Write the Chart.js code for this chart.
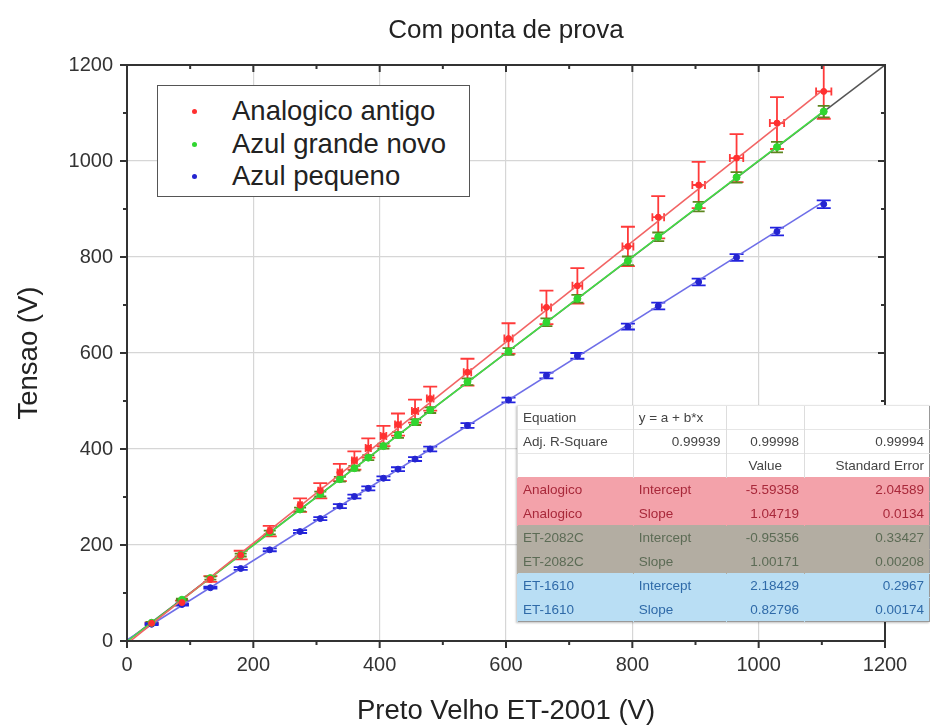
<!DOCTYPE html>
<html lang="pt">
<head>
    <meta charset="UTF-8">
    <title>Com ponta de prova</title>
    <script src="https://cdn.jsdelivr.net/npm/chart.js"></script>
    <style>
        html, body { margin: 0; padding: 0; background: #fff; overflow: hidden; }
        #wrap { position: relative; width: 930px; height: 728px; overflow: hidden; font-family: "Liberation Sans", Arial, sans-serif; }
        #legend { position: absolute; left: 157px; top: 85px; width: 311px; height: 110px; border: 1.5px solid #555; background: #fff; }
        #legend .item { position: absolute; left: 0; height: 30px; line-height: 30px; font-size: 27.5px; color: #222; white-space: nowrap; }
        #legend .dot { position: absolute; left: 34px; top: 13px; width: 5px; height: 5px; border-radius: 50%; }
        #legend .txt { position: absolute; left: 74px; top: 0; }
        #fit { position: absolute; left: 517px; top: 405px; border-collapse: collapse; font-size: 13.5px; color: #444; background: #fff; border: 1px solid #999; box-shadow: -1px 1px 2px rgba(0,0,0,0.25); }
        #fit td { height: 23px; padding: 0 5px; border-left: 1px solid #ddd; border-top: 1px solid #e6e6e6; white-space: nowrap; }
        #fit td.l { text-align: left; }
        #fit td.r { text-align: right; }
        #fit td.c { text-align: center; }
        #fit tr.ana td { background: #f3a2aa; color: #a8283a; border-color: #f3a2aa; }
        #fit tr.et2 td { background: #b3ada2; color: #5c6b55; border-color: #b3ada2; }
        #fit tr.et1 td { background: #b9def4; color: #2f6aa8; border-color: #b9def4; }
    </style>
</head>
<body>
<div id="wrap">
    <canvas id="chart" width="930" height="728"></canvas>
    <div id="legend"></div>
    <table id="fit">
        <colgroup><col style="width:118px"><col style="width:95px"><col style="width:80px"><col style="width:128px"></colgroup>
        <tbody></tbody>
    </table>
</div>
<script>
    // measured readings (V)
    const refVolts = [39, 87, 132, 180, 226, 274, 306, 337, 360, 382, 406, 429, 456, 480, 539, 604, 664, 713, 793, 841, 905, 965, 1029, 1103];

    const analogVolts = [37, 80, 129, 179, 229, 283, 313, 351, 376, 402, 427, 451, 479, 505, 560, 630, 695, 740, 822, 883, 950, 1006, 1079, 1145];
    const analogErr = [2, 4, 6, 9, 11, 14, 16, 18, 19, 20, 21, 23, 24, 25, 28, 32, 35, 37, 41, 44, 48, 50, 54, 57];
    const analogRefErr = [0.4, 1, 1.5, 2, 2.5, 3, 3.4, 3.7, 4, 4.2, 4.5, 4.7, 5, 5.3, 5.9, 6.6, 7.3, 7.8, 8.7, 9.3, 10, 10.6, 11.3, 12.1];

    const bigBlueVolts = [38, 86, 131, 179, 226, 274, 306, 337, 360, 382, 406, 429, 456, 481, 540, 603, 664, 713, 792, 842, 905, 966, 1029, 1103];
    const bigBlueErr = [2, 2, 3, 3, 4, 4, 5, 5, 5, 5, 5, 6, 6, 6, 7, 7, 8, 8, 9, 9, 10, 11, 11, 12];

    const smallBlueVolts = [35, 76, 111, 151, 190, 228, 255, 281, 301, 318, 339, 358, 379, 400, 449, 502, 553, 594, 655, 698, 748, 799, 853, 910];
    const smallBlueErr = [2, 2, 2, 3, 3, 3, 3, 4, 4, 4, 4, 4, 4, 5, 5, 5, 6, 6, 6, 7, 7, 7, 8, 8];

    const seriesNames = ['Analogico antigo', 'Azul grande novo', 'Azul pequeno'];
    const seriesColors = ['#ff3030', '#30d630', '#2424d0'];
    const fitColors = ['#f26464', '#45e045', '#6e6ee8'];
    const barColors = ['#ff3a3a', '#5d861e', '#2222e0'];

    // linear fits y = a + b*x
    const fitNames = ['Analogico', 'ET-2082C', 'ET-1610'];
    const fitIntercept = [-5.59358, -0.95356, 2.18429];
    const fitInterceptErr = ['2.04589', '0.33427', '0.2967'];
    const fitSlope = [1.04719, 1.00171, 0.82796];
    const fitSlopeErr = ['0.0134', '0.00208', '0.00174'];
    const adjR2 = ['0.99939', '0.99998', '0.99994'];

    const ticks = [0, 200, 400, 600, 800, 1000, 1200];
    const font = '"Liberation Sans", Arial, sans-serif';

    const pts = ys => refVolts.map((x, i) => ({ x: x, y: ys[i] }));
    const xMax = refVolts[refVolts.length - 1];

    // Chart.js paints dataset 0 last, so the markers go first and the y = x line last
    const datasets = [];
    [[analogVolts, analogErr, analogRefErr], [bigBlueVolts, bigBlueErr, null], [smallBlueVolts, smallBlueErr, null]].forEach((s, i) => {
        datasets.push({
            label: seriesNames[i],
            data: pts(s[0]),
            yErr: s[1], xErr: s[2],
            barColor: barColors[i], capWidth: i === 1 ? 12 : 14,
            backgroundColor: seriesColors[i], borderColor: seriesColors[i],
            pointRadius: i === 1 ? 3.5 : 3, showLine: false
        });
    });
    fitIntercept.forEach((a, i) => {
        datasets.push({
            data: [{ x: 0, y: a }, { x: xMax, y: a + fitSlope[i] * xMax }],
            showLine: true, borderColor: fitColors[i], borderWidth: 1.6, pointRadius: 0
        });
    });
    datasets.push({
        data: [{ x: 0, y: 0 }, { x: 1200, y: 1200 }],
        showLine: true, borderColor: '#555', borderWidth: 1.5, pointRadius: 0
    });

    // error bars, painted under the markers
    const errorBars = {
        id: 'errorBars',
        beforeDatasetsDraw(chart) {
            const { ctx, chartArea: a, scales: { x, y } } = chart;
            ctx.save();
            ctx.beginPath();
            ctx.rect(a.left, a.top - 1, a.right - a.left, a.bottom - a.top + 1);
            ctx.clip();
            chart.data.datasets.forEach(ds => {
                if (!ds.yErr) return;
                ctx.strokeStyle = ds.barColor;
                ctx.lineWidth = 1.8;
                const c = ds.capWidth / 2;
                ds.data.forEach((p, i) => {
                    const px = x.getPixelForValue(p.x);
                    const py = y.getPixelForValue(p.y);
                    const y1 = y.getPixelForValue(p.y - ds.yErr[i]);
                    const y2 = y.getPixelForValue(p.y + ds.yErr[i]);
                    ctx.beginPath();
                    ctx.moveTo(px, y1); ctx.lineTo(px, y2);
                    ctx.moveTo(px - c, y1); ctx.lineTo(px + c, y1);
                    ctx.moveTo(px - c, y2); ctx.lineTo(px + c, y2);
                    if (ds.xErr) {
                        const x1 = x.getPixelForValue(p.x - ds.xErr[i]);
                        const x2 = x.getPixelForValue(p.x + ds.xErr[i]);
                        ctx.moveTo(x1, py); ctx.lineTo(x2, py);
                        ctx.moveTo(x1, py - 4); ctx.lineTo(x1, py + 4);
                        ctx.moveTo(x2, py - 4); ctx.lineTo(x2, py + 4);
                    }
                    ctx.stroke();
                });
            });
            ctx.restore();
        }
    };

    // box frame with outward ticks on bottom/left and inward ticks on top/right, title over the plot
    const frame = {
        id: 'frame',
        afterDraw(chart) {
            const { ctx, chartArea: a, scales: { x, y } } = chart;
            ctx.save();
            ctx.strokeStyle = '#333';
            ctx.lineWidth = 2;
            ctx.strokeRect(a.left, a.top, a.right - a.left, a.bottom - a.top);
            ctx.beginPath();
            for (let v = 0; v <= 1200; v += 100) {
                const len = v % 200 === 0 ? 7 : 4;
                const px = x.getPixelForValue(v);
                const py = y.getPixelForValue(v);
                ctx.moveTo(px, a.bottom); ctx.lineTo(px, a.bottom + len);
                ctx.moveTo(px, a.top); ctx.lineTo(px, a.top + len);
                ctx.moveTo(a.left, py); ctx.lineTo(a.left - len, py);
                ctx.moveTo(a.right, py); ctx.lineTo(a.right - len, py);
            }
            ctx.stroke();
            ctx.fillStyle = '#222';
            ctx.font = '26px ' + font;
            ctx.textAlign = 'center';
            ctx.textBaseline = 'middle';
            ctx.fillText('Com ponta de prova', (a.left + a.right) / 2, 31);
            ctx.restore();
        }
    };

    const axis = (title, fit, titlePad, tickPad) => ({
        type: 'linear', min: 0, max: 1200,
        afterFit: fit,
        border: { display: false },
        grid: {
            drawTicks: false,
            color: c => (c.tick && c.tick.value % 200 === 0 && c.tick.value > 0 && c.tick.value < 1200) ? '#d6d6d6' : 'rgba(0,0,0,0)',
            lineWidth: 1.2
        },
        ticks: {
            stepSize: 100, autoSkip: false, maxRotation: 0, padding: tickPad,
            color: '#333', font: { family: font, size: 20 },
            callback: v => ticks.includes(v) ? String(v) : ''
        },
        title: { display: true, text: title, color: '#222', font: { family: font, size: 27.5 }, padding: titlePad }
    });

    new Chart(document.getElementById('chart'), {
        type: 'scatter',
        data: { datasets: datasets },
        options: {
            responsive: false,
            animation: false,
            layout: { padding: { left: 0, right: 45, top: 65, bottom: 0 } },
            plugins: {
                legend: { display: false },
                tooltip: { enabled: false },
                title: { display: false }
            },
            scales: {
                x: axis('Preto Velho ET-2001 (V)', s => { s.height = 87; }, { top: 0, bottom: 0 }, 12),
                y: axis('Tensao (V)', s => { s.width = 127; }, { top: 13, bottom: 0 }, 14)
            }
        },
        plugins: [errorBars, frame]
    });

    // legend box
    const legend = document.getElementById('legend');
    seriesNames.forEach((name, i) => {
        const item = document.createElement('div');
        item.className = 'item';
        item.style.top = (10 + i * 32.5) + 'px';
        item.innerHTML = '<span class="dot" style="background:' + seriesColors[i] + '"></span><span class="txt">' + name + '</span>';
        legend.appendChild(item);
    });

    // fit parameter table
    const rows = [
        ['<td class="l">Equation</td><td class="l">y = a + b*x</td><td></td><td></td>', ''],
        ['<td class="l">Adj. R-Square</td><td class="r">' + adjR2[0] + '</td><td class="r">' + adjR2[1] + '</td><td class="r">' + adjR2[2] + '</td>', ''],
        ['<td></td><td></td><td class="c">Value</td><td class="r">Standard Error</td>', '']
    ];
    const rowClass = ['ana', 'et2', 'et1'];
    fitNames.forEach((n, i) => {
        rows.push(['<td class="l">' + n + '</td><td class="l">Intercept</td><td class="r">' + fitIntercept[i].toFixed(5) + '</td><td class="r">' + fitInterceptErr[i] + '</td>', rowClass[i]]);
        rows.push(['<td class="l">' + n + '</td><td class="l">Slope</td><td class="r">' + fitSlope[i].toFixed(5) + '</td><td class="r">' + fitSlopeErr[i] + '</td>', rowClass[i]]);
    });
    document.querySelector('#fit tbody').innerHTML = rows.map(r => '<tr class="' + r[1] + '">' + r[0] + '</tr>').join('');
</script>
</body>
</html>
